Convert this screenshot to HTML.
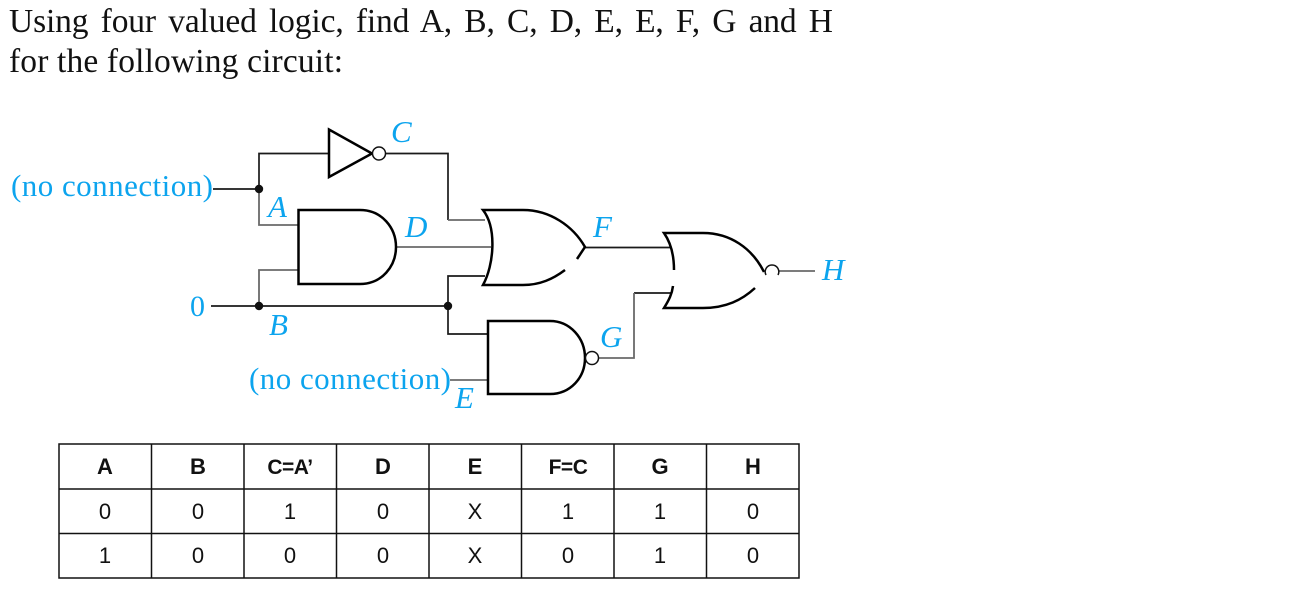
<!DOCTYPE html>
<html><head><meta charset="utf-8"><style>
html,body{margin:0;padding:0;background:#fff;width:1296px;height:590px;overflow:hidden}
svg{display:block}
.t{font-family:"Liberation Serif",serif;font-size:33.5px;fill:#111}
.b{font-family:"Liberation Serif",serif;fill:#0ca4ee}
.i{font-style:italic;font-size:31px}
.c{font-family:"Liberation Sans",sans-serif;font-size:22px;fill:#111;text-anchor:middle}
.h{font-weight:bold}
.g{fill:none;stroke:#000;stroke-width:2.5}
.w{fill:none;stroke:#1a1a1a;stroke-width:1.7}
.y{fill:none;stroke:#6a6a6a;stroke-width:1.8}
.soft{filter:blur(0.3px)}
</style></head><body>
<svg width="1296" height="590" viewBox="0 0 1296 590" xmlns="http://www.w3.org/2000/svg">
<text class="t" x="9" y="32" textLength="824" lengthAdjust="spacing" style="word-spacing:4px">Using four valued logic, find A, B, C, D, E, E, F, G and H</text>
<text class="t" x="9" y="72" textLength="334" lengthAdjust="spacing">for the following circuit:</text>

<g class="soft">
<!-- wires -->
<path class="w" d="M213 189H259M329 153.5H259V189M385 153.5H448V220"/>
<path class="y" d="M259 189V225H298M448 220H485M396 247H491M259 306V270H298"/>
<path class="w" d="M211 306H448M485 276H448V334H488M585 247.5H672M672 293H634"/>
<path class="y" d="M598 358H634V293M450 380H488M779 271H815"/>
<circle cx="259" cy="189" r="4.2" fill="#111"/>
<circle cx="259" cy="306" r="4.2" fill="#111"/>
<circle cx="448" cy="306" r="4.2" fill="#111"/>

<!-- inverter -->
<path class="g" d="M329 129.500V177L372 153.500Z" fill="#fff"/>
<circle cx="379" cy="153.500" r="6.500" fill="#fff" stroke="#111" stroke-width="1.500"/>

<!-- AND -->
<path class="g" d="M298.500 210H360C382 210 396 228 396 247C396 266 382 284 360 284H298.500Z"/>

<!-- OR 1 -->
<path class="g" d="M565 270C553 279 540 285 523 285H483C494 265 497 228 483 210H523C550 210 573 226 585 247L577 259"/>

<!-- OR 2 -->
<path class="g" d="M674 270C674 256 671 243 664 233H703C730 233 752 248 764 272M755 288C742 300 726 308 703 308H664C669 300 672 294 673 286"/>
<path d="M766 275A6.800 6.800 0 1 1 778 275" fill="#fff" stroke="#111" stroke-width="1.500"/>

<!-- NAND -->
<path class="g" d="M488 321H550C570 321 585 338 585 358C585 378 570 394 550 394H488Z"/>
<circle cx="592" cy="358" r="6.500" fill="#fff" stroke="#111" stroke-width="1.500"/>

<!-- blue labels -->
<text class="b" x="11" y="196" font-size="31" textLength="202">(no connection)</text>
<text class="b" x="249" y="389" font-size="31" textLength="202">(no connection)</text>
<text class="b" x="190" y="316" font-size="30">0</text>
<text class="b i" x="391" y="142">C</text>
<text class="b i" x="268" y="217">A</text>
<text class="b i" x="405" y="237">D</text>
<text class="b i" x="593" y="237">F</text>
<text class="b i" x="600" y="347">G</text>
<text class="b i" x="455" y="408">E</text>
<text class="b i" x="822" y="280">H</text>
<text class="b i" x="269" y="335">B</text>
</g>

<!-- table -->
<g fill="none" stroke="#111" stroke-width="1.500">
<rect x="59" y="444" width="740" height="134"/>
<path d="M59 489H799M59 533.500H799M151.500 444V578M244 444V578M336.500 444V578M429 444V578M521.500 444V578M614 444V578M706.500 444V578"/>
</g>
<g class="c h">
<text x="105" y="474">A</text><text x="198" y="474">B</text><text x="290" y="474" font-size="21" letter-spacing="-0.500">C=A’</text><text x="383" y="474">D</text><text x="475" y="474">E</text><text x="568" y="474" font-size="21" letter-spacing="-0.500">F=C</text><text x="660" y="474">G</text><text x="753" y="474">H</text>
</g>
<g class="c">
<text x="105" y="519">0</text><text x="198" y="519">0</text><text x="290" y="519">1</text><text x="383" y="519">0</text><text x="475" y="519">X</text><text x="568" y="519">1</text><text x="660" y="519">1</text><text x="753" y="519">0</text>
<text x="105" y="563">1</text><text x="198" y="563">0</text><text x="290" y="563">0</text><text x="383" y="563">0</text><text x="475" y="563">X</text><text x="568" y="563">0</text><text x="660" y="563">1</text><text x="753" y="563">0</text>
</g>
</svg>
</body></html>
